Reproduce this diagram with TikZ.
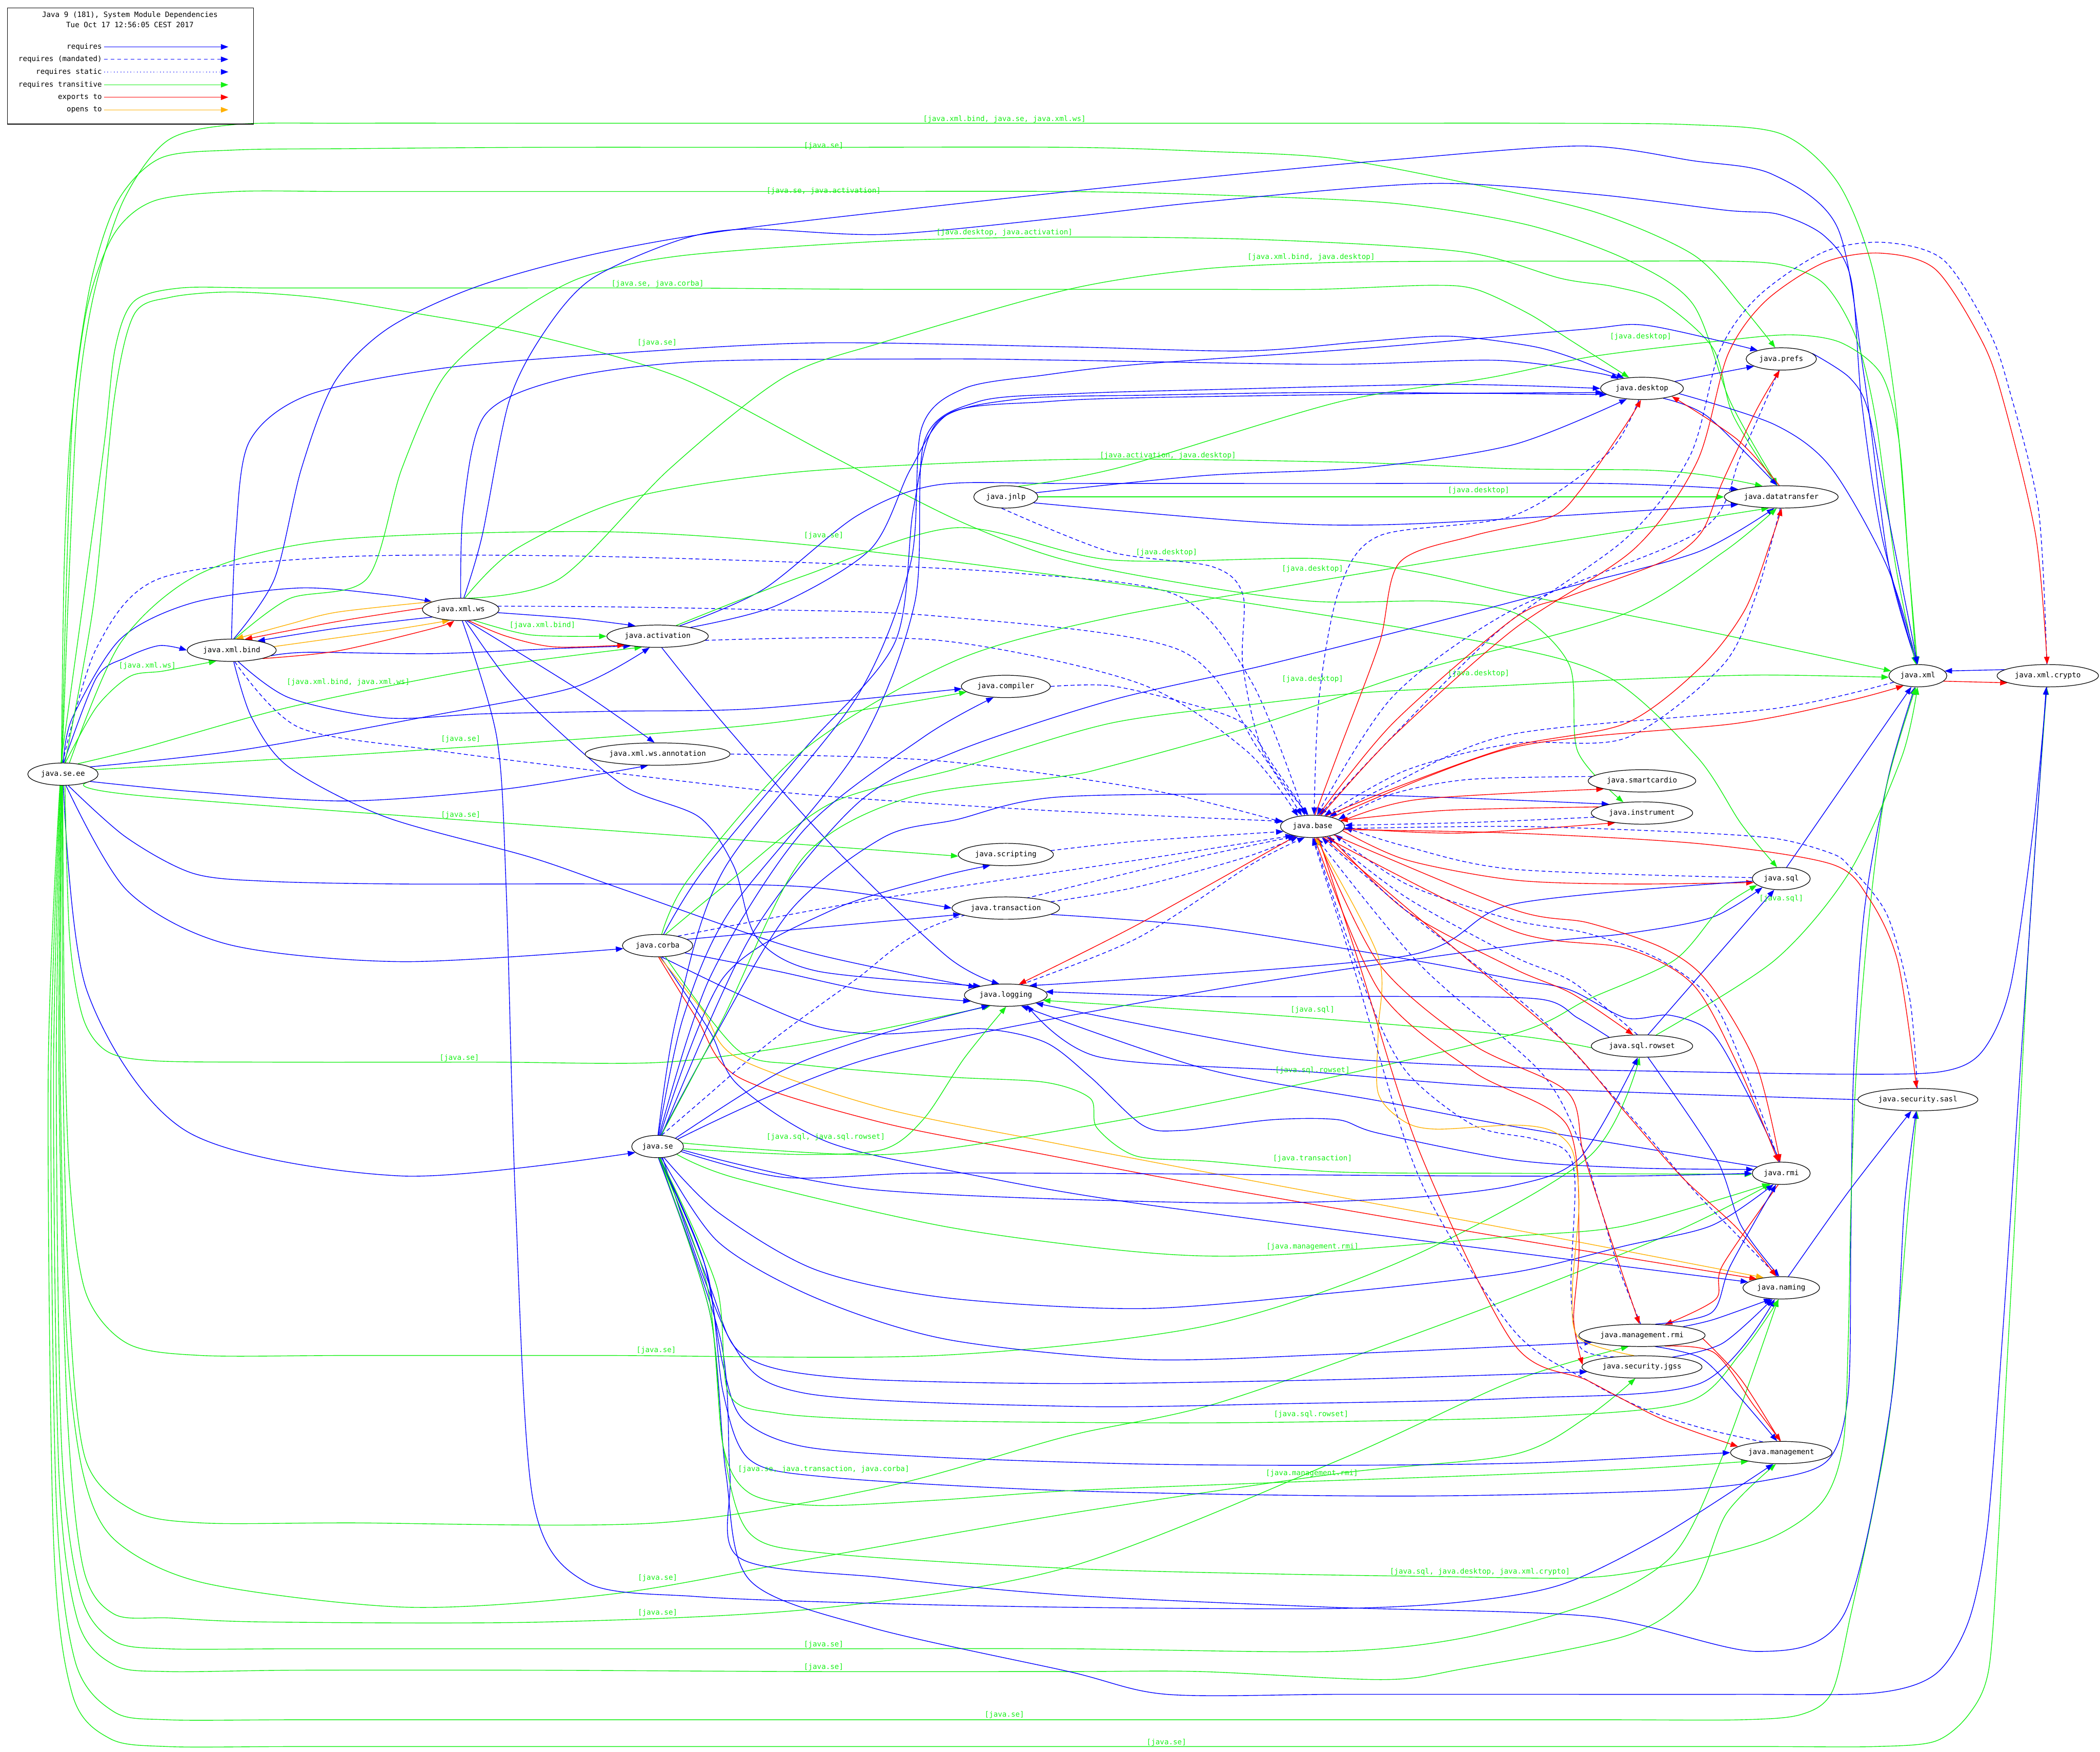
\documentclass[tikz,border=0pt]{standalone}
\usepackage{fontspec}
\setmonofont{DejaVu Sans Mono}
\usetikzlibrary{arrows.meta,shapes.geometric}
\definecolor{jblue}{RGB}{0,0,255}
\definecolor{jgreen}{RGB}{20,240,20}
\definecolor{jred}{RGB}{255,0,0}
\definecolor{jorange}{RGB}{255,176,0}
\pgfdeclarelayer{edges}
\pgfsetlayers{edges,main}
\newcommand{\modfont}{\ttfamily\fontsize{9.3}{11}\selectfont}
\tikzset{
  mod/.style={ellipse,draw,line width=0.8pt,fill=white,font=\modfont,
              inner xsep=0.13cm,inner ysep=1pt,minimum height=1cm},
  lbl/.style={font=\modfont,text=jgreen,inner sep=0pt},
  legtext/.style={font=\modfont,anchor=east,inner xsep=2.4pt,inner ysep=0pt},
  dep/.style={line width=0.9pt,-{Triangle[length=9.5pt,width=7pt]}},
  req/.style={dep,draw=jblue},
  mand/.style={dep,draw=jblue,dash pattern=on 5pt off 3.5pt},
  stat/.style={dep,draw=jblue,dash pattern=on 1.2pt off 3pt},
  trans/.style={dep,draw=jgreen},
  expt/.style={dep,draw=jred},
  opn/.style={dep,draw=jorange}
}
\begin{document}
\begin{tikzpicture}[x=0.06cm,y=-0.06cm]
  \useasboundingbox (0,0) rectangle (1568,1308);
  %% legend
  \node[draw,line width=0.8pt,minimum width=11.02cm,minimum height=5.2cm,
        anchor=north west,inner sep=0pt] (legend) at (5.3,5.7) {};
  \node[font=\modfont] (title) at (97,11.3) {Java 9 (181), System Module Dependencies};
  \node[font=\modfont] (stamp) at (97,18.4) {Tue Oct 17 12:56:05 CEST 2017};
  \node[legtext] (lreq) at (77.6,35) {requires};
  \node[legtext] (lmand) at (77.6,44.3) {requires (mandated)};
  \node[legtext] (lstat) at (77.6,53.7) {requires static};
  \node[legtext] (ltrans) at (77.6,63.3) {requires transitive};
  \node[legtext] (lexp) at (77.6,72.6) {exports to};
  \node[legtext] (lopn) at (77.6,82) {opens to};
  \coordinate (lreqend) at (170.5,35);
  \coordinate (lmandend) at (170.5,44.3);
  \coordinate (lstatend) at (170.5,53.7);
  \coordinate (ltransend) at (170.5,63.3);
  \coordinate (lexpend) at (170.5,72.6);
  \coordinate (lopnend) at (170.5,82);
  \draw[req] (lreq.east) -- (lreqend);
  \draw[mand] (lmand.east) -- (lmandend);
  \draw[stat] (lstat.east) -- (lstatend);
  \draw[trans] (ltrans.east) -- (ltransend);
  \draw[expt] (lexp.east) -- (lexpend);
  \draw[opn] (lopn.east) -- (lopnend);

  %% modules
  \node[mod] (seee) at (47,578) {java.se.ee};
  \node[mod] (xmlbind) at (173,485.5) {java.xml.bind};
  \node[mod] (xmlws) at (344,455) {java.xml.ws};
  \node[mod] (activation) at (491,475) {java.activation};
  \node[mod] (annotation) at (491,563) {java.xml.ws.annotation};
  \node[mod] (jnlp) at (751,371) {java.jnlp};
  \node[mod] (compiler) at (751,512.5) {java.compiler};
  \node[mod] (scripting) at (751,638) {java.scripting};
  \node[mod] (transaction) at (751,678) {java.transaction};
  \node[mod] (corba) at (491,706) {java.corba};
  \node[mod] (logging) at (751,743) {java.logging};
  \node[mod] (se) at (491,856) {java.se};
  \node[mod] (base) at (980,617) {java.base};
  \node[mod] (smartcardio) at (1226,583) {java.smartcardio};
  \node[mod] (instrument) at (1226,607) {java.instrument};
  \node[mod] (desktop) at (1226,290) {java.desktop};
  \node[mod] (prefs) at (1330,268) {java.prefs};
  \node[mod] (datatransfer) at (1330,371) {java.datatransfer};
  \node[mod] (xml) at (1432,504.5) {java.xml};
  \node[mod] (crypto) at (1529,504.5) {java.xml.crypto};
  \node[mod] (sql) at (1330,656) {java.sql};
  \node[mod] (rowset) at (1226,781) {java.sql.rowset};
  \node[mod] (sasl) at (1432,821) {java.security.sasl};
  \node[mod] (rmi) at (1330,876) {java.rmi};
  \node[mod] (naming) at (1330,961.5) {java.naming};
  \node[mod] (mgmtrmi) at (1226,997) {java.management.rmi};
  \node[mod] (jgss) at (1226,1020.6) {java.security.jgss};
  \node[mod] (mgmt) at (1330,1084.5) {java.management};

  %% edge labels
  \node[lbl] (l1) at (750,89) {[java.xml.bind, java.se, java.xml.ws]};
  \node[lbl] (l2) at (615,109) {[java.se]};
  \node[lbl] (l3) at (615,142.7) {[java.se, java.activation]};
  \node[lbl] (l4) at (750,173.6) {[java.desktop, java.activation]};
  \node[lbl] (l5) at (979,192) {[java.xml.bind, java.desktop]};
  \node[lbl] (l6) at (491,212) {[java.se, java.corba]};
  \node[lbl] (l7) at (490.6,256) {[java.se]};
  \node[lbl] (l8) at (1225,251.4) {[java.desktop]};
  \node[lbl] (l9) at (872,340) {[java.activation, java.desktop]};
  \node[lbl] (l10) at (1104,366) {[java.desktop]};
  \node[lbl] (l11) at (615,400) {[java.se]};
  \node[lbl] (l12) at (871,412.5) {[java.desktop]};
  \node[lbl] (l13) at (980,424.6) {[java.desktop]};
  \node[lbl] (l14) at (405,467) {[java.xml.bind]};
  \node[lbl] (l15) at (110,497) {[java.xml.ws]};
  \node[lbl] (l16) at (1104,503) {[java.desktop]};
  \node[lbl] (l17) at (980,507) {[java.desktop]};
  \node[lbl] (l18) at (260,509.5) {[java.xml.bind, java.xml.ws]};
  \node[lbl] (l19) at (344,552) {[java.se]};
  \node[lbl] (l20) at (344,608.5) {[java.se]};
  \node[lbl] (l21) at (1330,671) {[java.sql]};
  \node[lbl] (l22) at (980,754) {[java.sql]};
  \node[lbl] (l23) at (343,790) {[java.se]};
  \node[lbl] (l24) at (980,799) {[java.sql.rowset]};
  \node[lbl] (l25) at (616.5,849) {[java.sql, java.sql.rowset]};
  \node[lbl] (l26) at (980,865) {[java.transaction]};
  \node[lbl] (l27) at (980,931) {[java.management.rmi]};
  \node[lbl] (l28) at (490,1008) {[java.se]};
  \node[lbl] (l29) at (979,1056) {[java.sql.rowset]};
  \node[lbl] (l30) at (615,1097) {[java.se, java.transaction, java.corba]};
  \node[lbl] (l31) at (979.5,1100) {[java.management.rmi]};
  \node[lbl] (l32) at (1105,1173.5) {[java.sql, java.desktop, java.xml.crypto]};
  \node[lbl] (l33) at (491,1178) {[java.se]};
  \node[lbl] (l34) at (491,1204) {[java.se]};
  \node[lbl] (l35) at (615,1228) {[java.se]};
  \node[lbl] (l36) at (615,1244.6) {[java.se]};
  \node[lbl] (l37) at (750,1280.5) {[java.se]};
  \node[lbl] (l38) at (871,1301) {[java.se]};

  \begin{pgfonlayer}{edges}
  %% java.se.ee
  \draw[req] plot[smooth] coordinates {(seee.86) (72,506) (94,491) (119,482) (xmlbind.180)};
  \draw[req] plot[smooth] coordinates {(seee.88) (54,536) (90,477) (144,450) (223,439) (288,444) (xmlws.165)};
  \draw[req] plot[smooth] coordinates {(seee.15) (180,560) (324,534) (429,513) (activation.235)};
  \draw[req] plot[smooth] coordinates {(seee.-15) (144,591) (259,598) (378,589) (annotation.230)};
  \draw[req] plot[smooth] coordinates {(seee.-65) (94,625) (144,652) (200,658) (300,660) (450,660) (600,662) (transaction.180)};
  \draw[req] plot[smooth] coordinates {(seee.-75) (95,665) (170,705) (300,718) (corba.185)};
  \draw[req] plot[smooth] coordinates {(seee.-88) (65,740) (140,845) (300,878) (se.195)};
  \draw[mand] plot[smooth] coordinates {(seee.92) (72,484) (119,432) (250,416) (420,415) (600,420) (760,428) (880,445) (935,510) (base.125)};
  \draw[trans] plot[smooth] coordinates {(seee.94) (52,420) (58,300) (70,220) (92,150) (125,105) (175,93) (260,92) (400,92) (600,92) (800,92) (1000,92) (1150,92) (1260,93) (1330,100) (1372,136) (1398,200) (1415,300) (1425,420) (xml.92)};
  \draw[trans] plot[smooth] coordinates {(seee.96) (50,420) (55,300) (68,210) (88,150) (120,118) (175,112) (260,111) (400,110) (600,110) (798,110) (900,113) (994,118) (1092,136) (1190,158) (1264,190) (1300,228) (prefs.118)};
  \draw[trans] plot[smooth] coordinates {(seee.98) (48,420) (53,320) (65,230) (85,175) (115,150) (175,143) (260,143) (400,143) (600,143) (798,143) (920,146) (1043,152) (1141,168) (1215,194) (1264,227) (1292,300) (datatransfer.108)};
  \draw[trans] plot[smooth] coordinates {(seee.100) (62,450) (78,330) (86,260) (100,225) (135,215) (200,215) (350,215) (500,215) (650,216) (798,216) (900,216) (984,216) (1068,213) (1102,216) (1141,234) (1171,253) (desktop.140)};
  \draw[trans] plot[smooth] coordinates {(seee.80) (70,450) (85,300) (100,235) (127,222) (173,218) (235,222) (305,233) (397,250) (508,282) (620,340) (714,388) (791,417) (886,436) (981,449) (1077,449) (1134,459) (1172,497) (1178,561) (instrument.150)};
  \draw[trans] plot[smooth] coordinates {(seee.60) (90,480) (150,428) (250,403) (450,397) (615,408) (850,438) (1100,478) (1200,505) (1267,565) (1300,615) (sql.110)};
  \draw[trans] plot[smooth] coordinates {(seee.8) (300,561) (565,541) (compiler.188)};
  \draw[trans] plot[smooth] coordinates {(seee.-20) (115,595) (565,628) (scripting.182)};
  \draw[trans] plot[smooth] coordinates {(seee.-80) (52,700) (62,760) (80,785) (115,792) (200,793) (365,793) (497,793) (609,778) (logging.215)};
  \draw[trans] plot[smooth] coordinates {(seee.-91) (48,750) (52,880) (64,965) (95,1003) (150,1012) (260,1012) (450,1012) (700,1012) (900,990) (1050,940) (1186,864) (rowset.258)};
  \draw[trans] plot[smooth] coordinates {(seee.-93) (47,800) (52,980) (64,1090) (100,1128) (150,1137) (260,1137) (491,1137) (661,1110) (798,1072) (911,1047) (1100,980) (1250,920) (rmi.225)};
  \draw[trans] plot[smooth] coordinates {(seee.-95) (45,800) (50,1000) (62,1100) (86,1150) (153,1182) (305,1200) (458,1190) (610,1163) (798,1130) (1000,1100) (1130,1086) (1185,1058) (jgss.240)};
  \draw[trans] plot[smooth] coordinates {(seee.-97) (44,800) (50,1050) (62,1170) (85,1205) (127,1208) (200,1211) (407,1211) (610,1201) (798,1170) (1000,1090) (1130,1031) (mgmtrmi.220)};
  \draw[trans] plot[smooth] coordinates {(seee.-99) (42,800) (46,1080) (60,1190) (85,1225) (125,1231) (220,1231) (400,1231) (600,1231) (798,1231) (994,1233) (1092,1223) (1190,1196) (1250,1160) (1285,1090) (naming.255)};
  \draw[trans] plot[smooth] coordinates {(seee.-101) (40,800) (44,1100) (58,1210) (85,1243) (125,1248) (220,1247) (400,1247) (600,1248) (798,1248) (896,1248) (1033,1254) (1092,1246) (1215,1221) (1264,1188) (1289,1130) (mgmt.245)};
  \draw[trans] plot[smooth] coordinates {(seee.-103) (38,800) (42,1120) (56,1240) (85,1278) (125,1284) (220,1284) (400,1284) (600,1284) (800,1284) (1000,1284) (1200,1284) (1300,1284) (1345,1280) (1368,1263) (1382,1205) (1400,1120) (1412,1047) (1425,900) (sasl.265)};
  \draw[trans] plot[smooth] coordinates {(seee.-105) (36,800) (40,1150) (54,1265) (82,1298) (125,1304) (220,1304) (400,1304) (600,1304) (800,1304) (1000,1304) (1200,1304) (1320,1304) (1400,1304) (1445,1300) (1470,1280) (1485,1246) (1492,1150) (1497,1047) (1505,900) (1515,700) (crypto.265)};
  \draw[trans] plot[smooth] coordinates {(seee.78) (72,528) (97,505) (122,501) (xmlbind.215)};
  \draw[trans] plot[smooth] coordinates {(seee.35) (108,558) (216,528) (360,499) (activation.215)};

  %% java.xml.bind
  \draw[req] plot[smooth] coordinates {(xmlbind.-8) (230,487) (324,488) (420,484) (activation.200)};
  \draw[req] plot[smooth] coordinates {(xmlbind.80) (205,432) (225,350) (250,285) (290,245) (356,214) (447,189) (559,170) (798,143) (945,128) (1043,119) (1181,109) (1264,120) (1323,130) (1372,170) (1392,282) (1410,420) (xml.95)};
  \draw[req] plot[smooth] coordinates {(xmlbind.91) (176,400) (186,330) (230,295) (330,275) (458,264) (610,256) (798,259) (930,262) (1019,255) (1082,251) (1141,258) (1171,266) (desktop.150)};
  \draw[req] plot[smooth] coordinates {(xmlbind.-60) (216,521) (288,536) (360,533) (460,531) (565,529) (compiler.183)};
  \draw[req] plot[smooth] coordinates {(xmlbind.-80) (188,536) (216,573) (288,610) (396,640) (468,665) (600,710) (logging.165)};
  \draw[mand] plot[smooth] coordinates {(xmlbind.-75) (223,543) (324,560) (450,576) (600,593) (780,605) (base.170)};
  \draw[opn] plot[smooth] coordinates {(xmlbind.5) (288,471) (xmlws.225)};
  \draw[expt] plot[smooth] coordinates {(xmlbind.-15) (252,486) (324,469) (xmlws.240)};
  \draw[trans] plot[smooth] coordinates {(xmlbind.75) (216,447) (274,432) (300,350) (331,282) (376,241) (432,208) (508,191) (661,180) (798,177) (945,179) (1092,188) (1166,208) (1205,214) (1240,225) (1279,260) (1294,310) (datatransfer.112)};

  %% java.xml.ws
  \draw[req] plot[smooth] coordinates {(xmlws.195) (252,469) (xmlbind.20)};
  \draw[expt] plot[smooth] coordinates {(xmlws.178) (252,464) (xmlbind.40)};
  \draw[opn] plot[smooth] coordinates {(xmlws.165) (252,457) (216,466) (xmlbind.70)};
  \draw[req] plot[smooth] coordinates {(xmlws.-5) (432,462) (activation.155)};
  \draw[trans] plot[smooth] coordinates {(xmlws.-40) (396,474) (activation.180)};
  \draw[expt] plot[smooth] coordinates {(xmlws.-55) (378,475) (414,483) (activation.195)};
  \draw[req] plot[smooth] coordinates {(xmlws.-62) (432,515) (annotation.105)};
  \draw[req] plot[smooth] coordinates {(xmlws.75) (360,400) (380,300) (407,247) (442,208) (508,179) (559,171) (661,175) (798,162) (896,151) (1068,137) (1190,145) (1289,157) (1328,160) (1362,176) (1382,208) (1390,300) (1405,400) (xml.97)};
  \draw[req] plot[smooth] coordinates {(xmlws.90) (346,380) (362,310) (420,283) (520,270) (700,268) (798,269) (994,272) (1117,269) (1190,278) (desktop.158)};
  \draw[req] plot[smooth] coordinates {(xmlws.-68) (378,506) (414,543) (468,588) (522,610) (548,647) (565,700) (610,725) (logging.160)};
  \draw[req] plot[smooth] coordinates {(xmlws.-82) (371,551) (378,665) (385,900) (398,1120) (437,1181) (520,1192) (650,1197) (798,1200) (994,1201) (1092,1196) (1166,1183) (1240,1147) (mgmt.235)};
  \draw[mand] plot[smooth] coordinates {(xmlws.5) (450,453) (560,455) (700,460) (880,485) (940,560) (base.135)};
  \draw[trans] plot[smooth] coordinates {(xmlws.70) (385,410) (470,372) (600,352) (800,343) (1000,345) (1130,350) (1230,351) (1275,355) (datatransfer.150)};
  \draw[trans] plot[smooth] coordinates {(xmlws.55) (418,432) (500,350) (585,282) (661,255) (798,216) (896,201) (994,196) (1100,195) (1200,195) (1290,195) (1331,198) (1362,212) (1385,250) (1400,310) (1415,420) (xml.100)};

  %% java.activation
  \draw[req] plot[smooth] coordinates {(activation.-70) (540,540) (620,630) (707,714) (logging.120)};
  \draw[req] plot[smooth] coordinates {(activation.15) (580,452) (650,410) (680,350) (710,308) (780,300) (850,297) (1050,294) (desktop.186)};
  \draw[req] plot[smooth] coordinates {(activation.25) (570,440) (640,385) (700,362) (800,361) (1000,361) (1200,361) (datatransfer.170)};
  \draw[mand] plot[smooth] coordinates {(activation.-5) (700,478) (850,510) (930,560) (base.145)};
  \draw[trans] plot[smooth] coordinates {(activation.30) (600,430) (714,394) (829,418) (982,417) (1058,427) (1130,443) (1214,459) (1292,475) (xml.170)};

  %% java.jnlp, java.compiler, java.xml.ws.annotation, java.scripting
  \draw[req] plot[smooth] coordinates {(jnlp.8) (900,355) (1020,349) (1130,332) (desktop.215)};
  \draw[req] plot[smooth] coordinates {(jnlp.-12) (943,390) (1058,391) (datatransfer.190)};
  \draw[trans] (jnlp.0) -- (datatransfer.180);
  \draw[trans] plot[smooth] coordinates {(jnlp.40) (836,349) (1000,300) (1112,282) (1190,266) (1289,254) (1338,250) (1375,256) (1405,280) (1418,330) (1425,420) (xml.98)};
  \draw[mand] plot[smooth] coordinates {(jnlp.250) (829,412) (905,423) (928,444) (928,497) (943,561) (base.110)};
  \draw[mand] plot[smooth] coordinates {(compiler.0) (829,512) (886,525) (928,540) (951,572) (base.115)};
  \draw[mand] plot[smooth] coordinates {(annotation.0) (700,568) (860,590) (base.172)};
  \draw[mand] plot[smooth] coordinates {(scripting.5) (850,628) (base.190)};

  %% java.transaction, java.logging
  \draw[mand] plot[smooth] coordinates {(transaction.8) (850,662) (930,640) (base.215)};
  \draw[req] plot[smooth] coordinates {(transaction.-8) (900,692) (1050,716) (1130,731) (1172,739) (1214,760) (1247,758) (1278,771) (1303,813) (rmi.95)};
  \draw[mand] plot[smooth] coordinates {(logging.35) (850,700) (935,645) (base.235)};
  \draw[expt] plot[smooth] coordinates {(base.-150) (850,690) (logging.40)};

  %% java.corba
  \draw[req] plot[smooth] coordinates {(corba.62) (525,650) (600,560) (668,480) (682,380) (700,315) (760,298) (860,295) (1000,293) (desktop.190)};
  \draw[req] plot[smooth] coordinates {(corba.-70) (551,742) (609,766) (658,772) (731,768) (780,778) (814,804) (853,840) (882,844) (950,836) (999,836) (1029,846) (1130,866) (1220,872) (rmi.172)};
  \draw[req] plot[smooth] coordinates {(corba.-75) (530,770) (551,810) (619,853) (730,878) (853,899) (1130,935) (naming.170)};
  \draw[expt] plot[smooth] coordinates {(corba.-85) (520,760) (551,804) (658,838) (780,862) (900,885) (1130,925) (naming.160)};
  \draw[opn] plot[smooth] coordinates {(corba.-80) (525,755) (551,790) (658,827) (780,852) (900,875) (1130,918) (naming.150)};
  \draw[req] plot[smooth] coordinates {(corba.-15) (580,725) (650,740) (logging.190)};
  \draw[req] (corba.12) -- (transaction.188);
  \draw[trans] plot[smooth] coordinates {(corba.-55) (551,784) (600,795) (707,804) (780,808) (814,820) (819,842) (848,863) (902,867) (999,875) (1130,876) (rmi.182)};
  \draw[trans] plot[smooth] coordinates {(corba.70) (515,655) (600,560) (714,493) (829,461) (982,434) (1115,412) (datatransfer.222)};
  \draw[trans] plot[smooth] coordinates {(corba.55) (540,662) (620,600) (714,574) (829,540) (943,525) (1020,517) (1120,512) (1220,507) (1313,504) (xml.183)};
  \draw[mand] plot[smooth] coordinates {(corba.25) (650,672) (850,642) (base.205)};

  %% java.se
  \draw[req] plot[smooth] coordinates {(se.82) (530,730) (600,620) (690,550) (compiler.222)};
  \draw[req] plot[smooth] coordinates {(se.70) (560,700) (640,600) (714,561) (829,523) (943,497) (1058,468) (1172,438) (1268,412) (datatransfer.238)};
  \draw[req] plot[smooth] coordinates {(se.86) (510,760) (545,680) (640,560) (683,450) (690,330) (730,300) (800,294) (900,291) (1080,287) (desktop.180)};
  \draw[req] plot[smooth] coordinates {(se.74) (530,780) (590,680) (660,625) (714,612) (791,595) (982,593) (1096,596) (instrument.165)};
  \draw[req] plot[smooth] coordinates {(se.25) (585,799) (658,772) (logging.212)};
  \draw[req] plot[smooth] coordinates {(se.-80) (525,940) (540,1020) (555,1060) (600,1080) (700,1088) (850,1093) (1000,1094) (1150,1092) (mgmt.180)};
  \draw[req] plot[smooth] coordinates {(se.-70) (536,927) (609,969) (707,1000) (853,1015) (999,1011) (mgmtrmi.188)};
  \draw[req] plot[smooth] coordinates {(se.-75) (530,960) (548,1005) (580,1022) (650,1030) (800,1033) (1000,1030) (jgss.185)};
  \draw[req] plot[smooth] coordinates {(se.-66) (545,1000) (600,1040) (800,1050) (960,1048) (1130,1044) (1269,1033) (naming.240)};
  \draw[req] plot[smooth] coordinates {(se.-60) (536,905) (609,948) (707,969) (853,977) (999,965) (1130,950) (1214,930) (1278,915) (rmi.235)};
  \draw[req] plot[smooth] coordinates {(se.-12) (585,879) (682,876) (800,876) (950,877) (1100,878) (1220,878) (rmi.180)};
  \draw[req] plot[smooth] coordinates {(se.88) (505,760) (540,650) (640,520) (680,420) (688,320) (720,290) (780,280) (850,272) (1019,260) (1181,246) (1230,243) (prefs.160)};
  \draw[req] plot[smooth] coordinates {(se.77) (540,730) (620,680) (700,655) (scripting.215)};
  \draw[req] plot[smooth] coordinates {(se.-84) (538,1000) (545,1100) (552,1163) (661,1178) (798,1191) (994,1200) (1190,1207) (1313,1233) (1377,1205) (1412,1047) (1422,900) (sasl.262)};
  \draw[req] plot[smooth] coordinates {(se.20) (650,790) (900,740) (1130,706) (1214,697) (1278,685) (sql.205)};
  \draw[req] plot[smooth] coordinates {(se.-8) (650,888) (900,898) (1040,895) (1130,885) (1180,864) (rowset.250)};
  \draw[req] plot[smooth] coordinates {(se.-82) (528,950) (540,1040) (560,1090) (620,1103) (798,1113) (1043,1117) (1240,1113) (1320,1105) (1365,1090) (1380,1040) (1382,920) (1384,800) (1392,680) (1410,580) (xml.255)};
  \draw[req] plot[smooth] coordinates {(se.-86) (530,980) (542,1100) (560,1180) (650,1215) (798,1248) (871,1265) (1000,1265) (1150,1265) (1300,1265) (1400,1264) (1445,1250) (1470,1210) (1484,1140) (1495,1000) (1505,850) (1515,700) (crypto.262)};
  \draw[mand] plot[smooth] coordinates {(se.70) (526,820) (575,778) (638,732) (700,690) (850,650) (base.210)};
  \draw[trans] plot[smooth] coordinates {(se.-5) (600,862) (660,858) (690,835) (720,790) (logging.272)};
  \draw[trans] plot[smooth] coordinates {(se.8) (660,862) (804,842) (950,814) (1130,772) (1186,746) (1250,717) (1284,679) (sql.195)};
  \draw[trans] plot[smooth] coordinates {(se.-22) (551,880) (707,916) (853,935) (950,937) (1130,923) (1214,915) (rmi.222)};
  \draw[trans] plot[smooth] coordinates {(se.-78) (535,960) (544,1040) (580,1055) (660,1060) (798,1062) (945,1062) (1141,1058) (1259,1047) (1300,1010) (naming.258)};
  \draw[trans] plot[smooth] coordinates {(se.-81) (530,980) (540,1080) (560,1115) (610,1124) (700,1120) (798,1113) (950,1107) (1092,1102) (1215,1097) (mgmt.195)};
  \draw[trans] plot[smooth] coordinates {(se.-83) (528,960) (540,1080) (560,1145) (620,1160) (798,1171) (945,1175) (1070,1177) (1181,1178) (1240,1170) (1318,1150) (1360,1122) (1376,1080) (1380,1000) (1382,900) (1386,800) (1395,690) (1408,590) (xml.260)};
  \draw[trans] plot[smooth] coordinates {(se.72) (540,760) (600,640) (680,595) (791,580) (829,572) (943,540) (1058,501) (1211,459) (1287,412) (datatransfer.248)};

  %% java.desktop, java.prefs, java.datatransfer, java.xml, java.xml.crypto
  \draw[req] (desktop.12) -- (prefs.195);
  \draw[req] plot[smooth] coordinates {(desktop.-25) (1275,311) (datatransfer.110)};
  \draw[req] plot[smooth] coordinates {(desktop.-8) (1325,317) (1367,349) (1409,423) (xml.93)};
  \draw[expt] plot[smooth] coordinates {(datatransfer.100) (1297,328) (desktop.-15)};
  \draw[mand] plot[smooth] coordinates {(desktop.255) (1200,339) (1130,385) (1030,400) (1000,440) (985,520) (base.82)};
  \draw[req] plot[smooth] coordinates {(prefs.10) (1381,282) (1395,307) (1409,381) (xml.91)};
  \draw[mand] plot[smooth] coordinates {(prefs.258) (1300,340) (1270,396) (1130,455) (1040,520) (base.68)};
  \draw[mand] plot[smooth] coordinates {(datatransfer.265) (1311,445) (1286,497) (1214,551) (1130,555) (1050,575) (base.42)};
  \draw[mand] plot[smooth] coordinates {(xml.195) (1325,529) (1130,548) (1040,585) (base.30)};
  \draw[mand] plot[smooth] coordinates {(crypto.95) (1522,380) (1500,290) (1485,247) (1451,194) (1407,181) (1362,188) (1313,221) (1284,262) (1262,340) (1214,402) (1120,470) (1030,560) (base.58)};
  \draw[expt] plot[smooth] coordinates {(base.52) (1040,550) (1130,470) (1220,410) (1267,345) (1290,265) (1318,225) (1362,196) (1404,189) (1445,201) (1480,255) (1496,300) (1520,400) (crypto.93)};
  \draw[expt] plot[smooth] coordinates {(base.78) (1000,560) (1030,480) (1045,420) (1100,400) (1158,386) (1180,366) (1214,317) (desktop.265)};
  \draw[expt] plot[smooth] coordinates {(base.62) (1040,540) (1130,462) (1172,445) (1242,419) (1270,398) (1286,360) (1311,307) (prefs.262)};
  \draw[expt] plot[smooth] coordinates {(base.38) (1050,585) (1130,557) (1214,540) (1270,498) (1303,455) (1323,402) (datatransfer.272)};
  \draw[expt] plot[smooth] coordinates {(base.25) (1130,558) (1297,540) (1381,523) (xml.215)};
  \draw[expt] (xml.-12) -- (crypto.190);
  \draw[req] (crypto.172) -- (xml.10);
  \draw[req] plot[smooth] coordinates {(crypto.-95) (1518,620) (1501,737) (1480,785) (1450,800) (1380,802) (1250,800) (1130,797) (975,787) (logging.-15)};

  %% java.smartcardio, java.instrument
  \draw[mand] plot[smooth] coordinates {(smartcardio.175) (1096,582) (1039,593) (base.15)};
  \draw[expt] plot[smooth] coordinates {(base.10) (1058,597) (smartcardio.192)};
  \draw[mand] plot[smooth] coordinates {(instrument.185) (1100,614) (base.2)};
  \draw[expt] plot[smooth] coordinates {(instrument.172) (1080,605) (base.12)};
  \draw[expt] plot[smooth] coordinates {(base.-3) (1090,622) (instrument.200)};

  %% java.sql, java.sql.rowset
  \draw[mand] plot[smooth] coordinates {(sql.178) (1130,649) (1050,632) (base.-2)};
  \draw[expt] plot[smooth] coordinates {(base.-8) (1050,642) (1130,657) (1214,660) (sql.188)};
  \draw[req] plot[smooth] coordinates {(sql.65) (1391,565) (xml.240)};
  \draw[req] plot[smooth] coordinates {(sql.185) (1130,675) (1048,714) (logging.22)};
  \draw[req] (rowset.62) -- (sql.238);
  \draw[req] plot[smooth] coordinates {(rowset.-62) (1281,864) (1300,915) (naming.100)};
  \draw[req] plot[smooth] coordinates {(rowset.165) (1178,760) (1150,746) (1050,744) (900,744) (logging.5)};
  \draw[trans] plot[smooth] coordinates {(rowset.182) (1130,773) (965,759) (logging.-8)};
  \draw[trans] plot[smooth] coordinates {(rowset.38) (1325,717) (1381,651) (1420,565) (xml.268)};
  \draw[mand] plot[smooth] coordinates {(rowset.112) (1174,733) (1130,714) (1050,670) (base.-35)};
  \draw[expt] plot[smooth] coordinates {(base.-30) (1050,680) (1130,723) (1174,742) (rowset.128)};

  %% java.security.sasl
  \draw[req] plot[smooth] coordinates {(sasl.180) (1130,812) (975,800) (820,789) (logging.-25)};
  \draw[mand] plot[smooth] coordinates {(sasl.93) (1426,746) (1409,683) (1381,647) (1367,637) (1325,626) (1250,621) (1130,617) (base.-4)};
  \draw[expt] plot[smooth] coordinates {(base.-6) (1130,622) (1270,630) (1367,645) (1395,670) (1417,718) (sasl.96)};

  %% java.rmi, java.naming
  \draw[req] plot[smooth] coordinates {(rmi.165) (1130,841) (1030,822) (900,798) (logging.-35)};
  \draw[mand] plot[smooth] coordinates {(rmi.100) (1284,756) (1242,718) (1186,697) (1130,687) (1050,660) (base.-20)};
  \draw[expt] plot[smooth] coordinates {(base.-22) (1130,679) (1186,689) (1242,708) (1275,733) (1311,794) (rmi.96)};
  \draw[expt] plot[smooth] coordinates {(base.-40) (1130,695) (1214,708) (1264,735) (1297,794) (rmi.104)};
  \draw[expt] plot[smooth] coordinates {(rmi.255) (1286,945) (1281,970) (mgmtrmi.25)};
  \draw[req] plot[smooth] coordinates {(naming.58) (1380,890) (sasl.240)};
  \draw[mand] plot[smooth] coordinates {(naming.108) (1297,922) (1264,888) (1225,842) (1150,760) (1050,680) (base.-50)};
  \draw[expt] plot[smooth] coordinates {(base.-45) (1100,720) (1170,780) (1214,831) (1256,879) (1297,917) (naming.114)};

  %% java.management.rmi, java.security.jgss, java.management
  \draw[req] plot[smooth] coordinates {(mgmtrmi.40) (1278,980) (1292,945) (rmi.245)};
  \draw[req] plot[smooth] coordinates {(mgmtrmi.12) (1280,985) (naming.228)};
  \draw[req] plot[smooth] coordinates {(mgmtrmi.-40) (1270,1014) (1297,1041) (mgmt.110)};
  \draw[expt] plot[smooth] coordinates {(mgmt.96) (1300,1030) (1272,1000) (mgmtrmi.-5)};
  \draw[expt] plot[smooth] coordinates {(mgmtrmi.-25) (1280,1010) (1310,1050) (mgmt.92)};
  \draw[mand] plot[smooth] coordinates {(mgmtrmi.97) (1208,945) (1194,898) (1180,854) (1150,800) (1060,720) (base.-72)};
  \draw[expt] plot[smooth] coordinates {(base.-68) (1030,720) (1100,780) (1170,815) (1182,860) (1200,917) (mgmtrmi.103)};
  \draw[req] plot[smooth] coordinates {(jgss.18) (1286,1003) (naming.232)};
  \draw[mand] plot[smooth] coordinates {(jgss.160) (1180,1006) (1173,964) (1176,884) (1169,859) (1144,850) (1100,840) (1050,800) (1020,740) (base.-85)};
  \draw[expt] plot[smooth] coordinates {(base.-80) (1030,740) (1100,800) (1170,840) (1179,926) (1175,985) (jgss.178)};
  \draw[opn] plot[smooth] coordinates {(jgss.125) (1179,999) (1174,964) (1179,898) (1174,859) (1158,844) (1130,840) (1072,843) (1048,837) (1029,816) (1029,770) (1029,714) (base.-76)};
  \draw[mand] plot[smooth] coordinates {(mgmt.150) (1270,1066) (1228,1052) (1186,1031) (1130,993) (1060,880) (1010,720) (base.-90)};
  \draw[expt] plot[smooth] coordinates {(base.-62) (1015,720) (1060,860) (1130,1003) (1186,1031) (1242,1060) (mgmt.172)};
  \end{pgfonlayer}
\end{tikzpicture}
\end{document}
